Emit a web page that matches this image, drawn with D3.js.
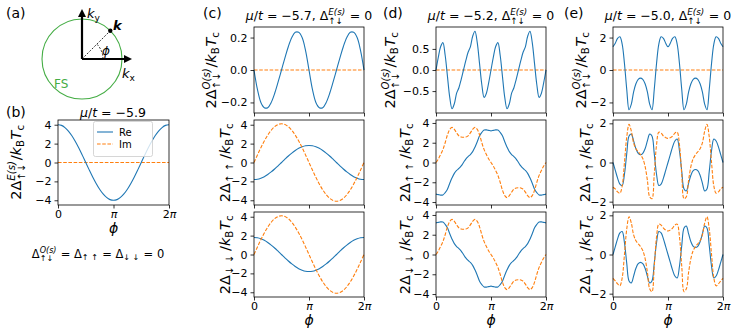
<!DOCTYPE html>
<html>
<head>
<meta charset="utf-8">
<script src="https://cdn.jsdelivr.net/npm/d3@7/dist/d3.min.js"></script>
<style>
body { margin: 0; background: #fff; }
svg text { font-family: "DejaVu Sans", sans-serif; fill: #000; white-space: pre; }
</style>
</head>
<body>
<script>
// sample positions along phi, in units of pi
var phi16 = d3.range(33).map(function(k) { return k / 16; });
var phi24 = d3.range(49).map(function(k) { return k / 24; });
var xTicks = [0, 1, 2];
var xTickLabels = ['0', 'π', '2π'];

// (b) mu/t = -5.9
var bRe = [4.0, 3.93, 3.7, 3.33, 2.83, 2.22, 1.53, 0.78, 0, -0.78, -1.53, -2.22, -2.83, -3.33, -3.7, -3.93, -4.0,
           -3.93, -3.7, -3.33, -2.83, -2.22, -1.53, -0.78, 0, 0.78, 1.53, 2.22, 2.83, 3.33, 3.7, 3.93, 4.0];
var bIm = [0, 0, 0, 0, 0, 0, 0, 0, 0, 0, 0, 0, 0, 0, 0, 0, 0, 0, 0, 0, 0, 0, 0, 0, 0, 0, 0, 0, 0, 0, 0, 0, 0];

// (c) mu/t = -5.7
var cOdd = [0, -0.12, -0.2, -0.232, -0.232, -0.2, -0.145, -0.075, 0, 0.075, 0.145, 0.2, 0.232, 0.232, 0.2, 0.12, 0,
            -0.12, -0.2, -0.232, -0.232, -0.2, -0.145, -0.075, 0, 0.075, 0.145, 0.2, 0.232, 0.232, 0.2, 0.12, 0];
var cUuRe = [-1.8, -1.77, -1.66, -1.5, -1.27, -1.0, -0.69, -0.35, 0, 0.35, 0.69, 1.0, 1.27, 1.5, 1.66, 1.77, 1.8,
             1.77, 1.66, 1.5, 1.27, 1.0, 0.69, 0.35, 0, -0.35, -0.69, -1.0, -1.27, -1.5, -1.66, -1.77, -1.8];
var cUuIm = [0, 0.8, 1.57, 2.28, 2.9, 3.41, 3.79, 4.02, 4.1, 4.02, 3.79, 3.41, 2.9, 2.28, 1.57, 0.8, 0,
             -0.8, -1.57, -2.28, -2.9, -3.41, -3.79, -4.02, -4.1, -4.02, -3.79, -3.41, -2.9, -2.28, -1.57, -0.8, 0];
var cDdRe = [1.8, 1.77, 1.66, 1.5, 1.27, 1.0, 0.69, 0.35, 0, -0.35, -0.69, -1.0, -1.27, -1.5, -1.66, -1.77, -1.8,
             -1.77, -1.66, -1.5, -1.27, -1.0, -0.69, -0.35, 0, 0.35, 0.69, 1.0, 1.27, 1.5, 1.66, 1.77, 1.8];
var cDdIm = [0, 0.8, 1.57, 2.28, 2.9, 3.41, 3.79, 4.02, 4.1, 4.02, 3.79, 3.41, 2.9, 2.28, 1.57, 0.8, 0,
             -0.8, -1.57, -2.28, -2.9, -3.41, -3.79, -4.02, -4.1, -4.02, -3.79, -3.41, -2.9, -2.28, -1.57, -0.8, 0];

// (d) mu/t = -5.2
var dOdd = [0, 0.3, 0.55, 0.65, 0.35, -0.15, -0.65, -0.92, -0.8, -0.55, -0.42, -0.22, 0, 0.22, 0.42, 0.55, 0.8, 0.92, 0.65, 0.15, -0.35, -0.65, -0.55, -0.3, 0,
            0.3, 0.55, 0.65, 0.35, -0.15, -0.65, -0.92, -0.8, -0.55, -0.42, -0.22, 0, 0.22, 0.42, 0.55, 0.8, 0.92, 0.65, 0.15, -0.35, -0.65, -0.55, -0.3, 0];
var dUuRe = [-3.2, -3.25, -3.3, -3.28, -3.05, -2.7, -2.1, -1.55, -1.1, -0.8, -0.6, -0.35, 0, 0.35, 0.6, 0.8, 1.1, 1.55, 2.1, 2.7, 3.05, 3.28, 3.3, 3.25, 3.2,
             3.25, 3.3, 3.28, 3.05, 2.7, 2.1, 1.55, 1.1, 0.8, 0.6, 0.35, 0, -0.35, -0.6, -0.8, -1.1, -1.55, -2.1, -2.7, -3.05, -3.28, -3.3, -3.25, -3.2];
var dUuIm = [0, 0.35, 0.8, 1.3, 2.0, 2.8, 3.35, 3.55, 3.35, 3.0, 2.7, 2.57, 2.55, 2.57, 2.7, 3.0, 3.35, 3.55, 3.35, 2.8, 2.0, 1.3, 0.8, 0.35, 0,
             -0.35, -0.8, -1.3, -2.0, -2.8, -3.35, -3.55, -3.35, -3.0, -2.7, -2.57, -2.55, -2.57, -2.7, -3.0, -3.35, -3.55, -3.35, -2.8, -2.0, -1.3, -0.8, -0.35, 0];
var dDdRe = [3.2, 3.25, 3.3, 3.28, 3.05, 2.7, 2.1, 1.55, 1.1, 0.8, 0.6, 0.35, 0, -0.35, -0.6, -0.8, -1.1, -1.55, -2.1, -2.7, -3.05, -3.28, -3.3, -3.25, -3.2,
             -3.25, -3.3, -3.28, -3.05, -2.7, -2.1, -1.55, -1.1, -0.8, -0.6, -0.35, 0, 0.35, 0.6, 0.8, 1.1, 1.55, 2.1, 2.7, 3.05, 3.28, 3.3, 3.25, 3.2];
var dDdIm = [0, 0.35, 0.8, 1.3, 2.0, 2.8, 3.35, 3.55, 3.35, 3.0, 2.7, 2.57, 2.55, 2.57, 2.7, 3.0, 3.35, 3.55, 3.35, 2.8, 2.0, 1.3, 0.8, 0.35, 0,
             -0.35, -0.8, -1.3, -2.0, -2.8, -3.35, -3.55, -3.35, -3.0, -2.7, -2.57, -2.55, -2.57, -2.7, -3.0, -3.35, -3.55, -3.35, -2.8, -2.0, -1.3, -0.8, -0.35, 0];

// (e) mu/t = -5.0
var eOdd = [1.43, 1.65, 1.95, 2.05, 1.6, 0.4, -1.2, -2.45, -2.1, -1.35, -0.85, -0.58, -0.5, -0.58, -0.85, -1.35, -2.1, -2.45, -1.2, 0.4, 1.6, 2.05, 1.95, 1.65, 1.43,
            1.65, 1.95, 2.05, 1.6, 0.4, -1.2, -2.45, -2.1, -1.35, -0.85, -0.58, -0.5, -0.58, -0.85, -1.35, -2.1, -2.45, -1.2, 0.4, 1.6, 2.05, 1.95, 1.65, 1.43];
var eUuRe = [0, -0.4, -0.8, -1.1, -1.17, -0.6, 0.45, 1.35, 1.45, 1.1, 0.7, 0.47, 0.4, 0.47, 0.7, 1.1, 1.45, 1.35, 0.45, -0.6, -1.17, -1.1, -0.8, -0.4, 0,
             0.4, 0.8, 1.1, 1.2, 0.6, -0.45, -1.35, -1.45, -1.05, -0.65, -0.42, -0.36, -0.42, -0.65, -1.05, -1.45, -1.35, -0.45, 0.6, 1.2, 1.1, 0.8, 0.4, 0];
var eUuIm = [-1.26, -1.35, -1.5, -1.57, -1.2, 0.0, 1.3, 1.95, 1.6, 1.0, 0.7, 0.55, 0.4, 0.2, -0.2, -0.9, -1.75, -1.85, -0.6, 0.9, 1.55, 1.5, 1.35, 1.27, 1.23,
             1.27, 1.35, 1.5, 1.55, 0.9, -0.6, -1.85, -1.75, -0.9, -0.2, 0.2, 0.4, 0.55, 0.7, 1.0, 1.6, 1.95, 1.3, 0.0, -1.2, -1.57, -1.5, -1.35, -1.26];
var eDdRe = [0, 0.4, 0.8, 1.1, 1.17, 0.6, -0.45, -1.35, -1.45, -1.1, -0.7, -0.47, -0.4, -0.47, -0.7, -1.1, -1.45, -1.35, -0.45, 0.6, 1.17, 1.1, 0.8, 0.4, 0,
             -0.4, -0.8, -1.1, -1.2, -0.6, 0.45, 1.35, 1.45, 1.05, 0.65, 0.42, 0.36, 0.42, 0.65, 1.05, 1.45, 1.35, 0.45, -0.6, -1.2, -1.1, -0.8, -0.4, 0];
var eDdIm = [-1.22, -1.35, -1.5, -1.6, -1.2, 0.0, 1.3, 1.93, 1.6, 1.0, 0.7, 0.55, 0.4, 0.2, -0.2, -0.9, -1.75, -1.9, -0.6, 0.9, 1.55, 1.5, 1.35, 1.25, 1.2,
             1.25, 1.35, 1.5, 1.55, 0.9, -0.6, -1.9, -1.75, -0.9, -0.2, 0.2, 0.4, 0.55, 0.7, 1.0, 1.6, 1.93, 1.3, 0.0, -1.2, -1.6, -1.5, -1.35, -1.22];

var blue = '#1f77b4', orange = '#ff7f0e';
var svg = d3.select('body').append('svg').attr('width', 747).attr('height', 332);

// lays out simple math: strings, {t,i,b}, or {sup,sub} stacks
function mtext(parent, parts, fs, anchor) {
  var g = parent.append('g'), x = 0;
  parts.forEach(function(p) {
    if (typeof p === 'string') p = { t: p };
    if (p.t !== undefined) {
      var t = g.append('text').attr('x', x).attr('y', 0).style('font-size', fs + 'px').text(p.t);
      if (p.i) t.style('font-style', 'italic');
      if (p.b) t.style('font-weight', 'bold');
      x += t.node().getComputedTextLength();
    } else {
      var w = 0, ss = fs * 0.7;
      if (p.sup !== undefined) {
        var s1 = g.append('text').attr('x', x).attr('y', -fs * 0.42).style('font-size', ss + 'px')
          .style('font-style', 'italic').text(p.sup);
        w = Math.max(w, s1.node().getComputedTextLength());
      }
      if (p.sub !== undefined) {
        var s2 = g.append('text').attr('x', x).attr('y', fs * (p.sup !== undefined ? 0.3 : 0.2))
          .style('font-size', ss + 'px').text(p.sub);
        w = Math.max(w, s2.node().getComputedTextLength());
      }
      x += w + fs * 0.05;
    }
  });
  g.attr('transform', 'translate(' + (-x * anchor) + ',0)');
  return x;
}

function ylabel(cx, cy, parts) {
  var g = svg.append('g').attr('transform', 'translate(' + cx + ',' + cy + ') rotate(-90)');
  var inner = g.append('g').attr('transform', 'translate(0,' + 5 + ')');
  mtext(inner, parts, 14.5, 0.5);
}

function panel(o) {
  var x = d3.scaleLinear().domain([0, 2]).range([o.x0, o.x1]);
  var y = d3.scaleLinear().domain(o.ydom).range([o.y1, o.y0]);
  var g = svg.append('g');
  o.series.forEach(function(s) {
    var line = d3.line()
      .x(function(d, i) { return x(s.phi[i]); })
      .y(function(d) { return y(d); })
      .curve(d3.curveCatmullRom);
    g.append('path').attr('d', line(s.v))
      .attr('fill', 'none').attr('stroke', s.color).attr('stroke-width', 1.1)
      .attr('stroke-dasharray', s.dash ? '3.6,1.6' : null);
  });
  g.append('rect').attr('x', o.x0).attr('y', o.y0)
    .attr('width', o.x1 - o.x0).attr('height', o.y1 - o.y0)
    .attr('fill', 'none').attr('stroke', '#000').attr('stroke-width', 0.8);

  var ya = g.append('g').attr('transform', 'translate(' + o.x0 + ',0)')
    .call(d3.axisLeft(y).tickValues(o.yticks).tickSize(3.5).tickPadding(3).tickFormat(o.yfmt));
  ya.select('.domain').remove();
  ya.selectAll('.tick line').attr('stroke-width', 0.8);
  ya.selectAll('.tick text').style('font-size', '11px');

  var xa = g.append('g').attr('transform', 'translate(0,' + o.y1 + ')')
    .call(d3.axisBottom(x).tickValues(xTicks).tickSize(3.5).tickPadding(2).tickFormat(''));
  xa.select('.domain').remove();
  xa.selectAll('.tick line').attr('stroke-width', 0.8);
  xa.selectAll('.tick text').each(function(d, i) {
    if (!o.xlab) return;
    var t = d3.select(this).style('font-size', '11px');
    var lab = xTickLabels[i];
    var pre = lab.replace('π', '');
    if (pre) t.append('tspan').text(pre);
    if (lab.indexOf('π') >= 0) t.append('tspan').style('font-style', 'italic').text('π');
  });
  if (o.xlab) {
    svg.append('text').attr('x', (o.x0 + o.x1) / 2).attr('y', o.y1 + 28)
      .attr('text-anchor', 'middle').style('font-size', '14px').style('font-style', 'italic').text('ϕ');
  }
  return { x: x, y: y };
}

function title(cx, by, parts) {
  var g = svg.append('g').attr('transform', 'translate(' + cx + ',' + by + ')');
  mtext(g, parts, 12.5, 0.5);
}

function plabel(x, y, s) {
  svg.append('text').attr('x', x).attr('y', y).style('font-size', '14px').text(s);
}

var rows = [[27, 113], [120, 205], [212, 297]];
var cols = { b: [58, 169], c: [254, 364], d: [436, 546], e: [613, 723] };
var fmtI = d3.format('d'), fmt1 = d3.format('.1f');

// ---------- (a) schematic ----------
var A = { cx: 82, cy: 59, r: 40, kAng: 45 };
var fsGreen = '#45ad45';
var ga = svg.append('g');
ga.append('circle').attr('cx', A.cx).attr('cy', A.cy).attr('r', A.r)
  .attr('fill', 'none').attr('stroke', fsGreen).attr('stroke-width', 1.1);
ga.append('line').attr('x1', A.cx).attr('y1', A.cy).attr('x2', A.cx).attr('y2', A.cy - 44)
  .attr('stroke', '#000').attr('stroke-width', 2.2);
ga.append('path').attr('d', 'M' + A.cx + ',' + (A.cy - 50) + 'l-4,8h8z');
ga.append('line').attr('x1', A.cx).attr('y1', A.cy).attr('x2', A.cx + 44).attr('y2', A.cy)
  .attr('stroke', '#000').attr('stroke-width', 2.2);
ga.append('path').attr('d', 'M' + (A.cx + 50) + ',' + A.cy + 'l-8,-4v8z');
var kr = A.kAng * Math.PI / 180;
var kx = A.cx + A.r * Math.cos(kr), ky = A.cy - A.r * Math.sin(kr);
ga.append('line').attr('x1', A.cx).attr('y1', A.cy).attr('x2', kx).attr('y2', ky)
  .attr('stroke', '#000').attr('stroke-width', 0.8).attr('stroke-dasharray', '2,1.5');
ga.append('circle').attr('cx', kx).attr('cy', ky).attr('r', 2.2).attr('fill', '#000');
var arcR = 21;
ga.append('path')
  .attr('d', 'M' + (A.cx + arcR) + ',' + A.cy + 'A' + arcR + ',' + arcR + ' 0 0 0 ' +
    (A.cx + arcR * Math.cos(kr)) + ',' + (A.cy - arcR * Math.sin(kr)))
  .attr('fill', 'none').attr('stroke', '#000').attr('stroke-width', 0.8).attr('stroke-dasharray', '2,1.5');
var kyl = svg.append('g').attr('transform', 'translate(87,18)');
mtext(kyl, [{ t: 'k', i: 1 }, { sub: 'y' }], 13, 0);
var kxl = svg.append('g').attr('transform', 'translate(122,78)');
mtext(kxl, [{ t: 'k', i: 1 }, { sub: 'x' }], 13, 0);
svg.append('text').attr('x', 113).attr('y', 30).style('font-size', '13px')
  .style('font-style', 'italic').style('font-weight', 'bold').text('k');
svg.append('text').attr('x', 102).attr('y', 55).style('font-size', '12px').style('font-style', 'italic').text('ϕ');
svg.append('text').attr('x', 54).attr('y', 88).style('font-size', '12px').style('fill', fsGreen).text('FS');
plabel(6, 18, '(a)');

// ---------- (b) ----------
panel({ x0: cols.b[0], x1: cols.b[1], y0: rows[1][0], y1: rows[1][1], ydom: [-4.5, 4.5],
  yticks: [-4, -2, 0, 2, 4], yfmt: fmtI, xlab: true,
  series: [{ v: bIm, phi: phi16, color: orange, dash: 1 }, { v: bRe, phi: phi16, color: blue }] });
plabel(6, 117, '(b)');
title(113, 117, [{ t: 'μ', i: 1 }, '/', { t: 't', i: 1 }, ' = −5.9']);
ylabel(16, 162, ['2Δ', { sup: 'E(s)', sub: '↑↓' }, '/', { t: 'k', i: 1 }, { sub: 'B' }, { t: 'T', i: 1 }, { sub: 'c' }]);
// legend
var lg = svg.append('g');
lg.append('rect').attr('x', 93.5).attr('y', 121.5).attr('width', 59).attr('height', 35).attr('rx', 2)
  .attr('fill', '#fff').attr('fill-opacity', 0.8).attr('stroke', '#ccc').attr('stroke-width', 0.8);
lg.append('line').attr('x1', 97).attr('x2', 113).attr('y1', 132).attr('y2', 132).attr('stroke', blue).attr('stroke-width', 1.1);
lg.append('line').attr('x1', 97).attr('x2', 113).attr('y1', 144).attr('y2', 144).attr('stroke', orange)
  .attr('stroke-width', 1.1).attr('stroke-dasharray', '3.6,1.6');
lg.append('text').attr('x', 119).attr('y', 135.5).style('font-size', '10px').text('Re');
lg.append('text').attr('x', 119).attr('y', 147.5).style('font-size', '10px').text('Im');
var bt = svg.append('g').attr('transform', 'translate(98,258)');
mtext(bt, ['Δ', { sup: 'O(s)', sub: '↑↓' }, ' = Δ', { sub: '↑ ↑' }, ' = Δ', { sub: '↓ ↓' }, ' = 0'], 11.5, 0.5);

// ---------- (c), (d), (e) ----------
var yOdd = ['2Δ', { sup: 'O(s)', sub: '↑↓' }, '/', { t: 'k', i: 1 }, { sub: 'B' }, { t: 'T', i: 1 }, { sub: 'c' }];
var yUu = ['2Δ', { sub: '↑ ↑ ' }, '/', { t: 'k', i: 1 }, { sub: 'B' }, { t: 'T', i: 1 }, { sub: 'c' }];
var yDd = ['2Δ', { sub: '↓ ↓ ' }, '/', { t: 'k', i: 1 }, { sub: 'B' }, { t: 'T', i: 1 }, { sub: 'c' }];

var cfg = [
  { key: 'c', mu: '−5.7', lab: '(c)', lx: 203, odd: cOdd, uRe: cUuRe, uIm: cUuIm, dRe: cDdRe, dIm: cDdIm, phi: phi16,
    d1: [-0.265, 0.265], t1: [-0.2, 0, 0.2], f1: fmt1, d2: [-4.5, 4.5], t2: [-4, -2, 0, 2, 4], yl: [211, 225] },
  { key: 'd', mu: '−5.2', lab: '(d)', lx: 383, odd: dOdd, uRe: dUuRe, uIm: dUuIm, dRe: dDdRe, dIm: dDdIm, phi: phi24,
    d1: [-1.02, 1.02], t1: [-0.5, 0, 0.5], f1: fmt1, d2: [-4.3, 4.3], t2: [-4, -2, 0, 2, 4], yl: [390, 405] },
  { key: 'e', mu: '−5.0', lab: '(e)', lx: 564, odd: eOdd, uRe: eUuRe, uIm: eUuIm, dRe: eDdRe, dIm: eDdIm, phi: phi24,
    d1: [-2.65, 2.65], t1: [-2, 0, 2], f1: fmtI, d2: [-2.17, 2.17], t2: [-2, 0, 2], yl: [581, 585] }
];

cfg.forEach(function(c) {
  var col = cols[c.key], zero = c.phi.map(function() { return 0; });
  panel({ x0: col[0], x1: col[1], y0: rows[0][0], y1: rows[0][1], ydom: c.d1, yticks: c.t1, yfmt: c.f1,
    series: [{ v: zero, phi: c.phi, color: orange, dash: 1 }, { v: c.odd, phi: c.phi, color: blue }] });
  panel({ x0: col[0], x1: col[1], y0: rows[1][0], y1: rows[1][1], ydom: c.d2, yticks: c.t2, yfmt: fmtI,
    series: [{ v: c.uRe, phi: c.phi, color: blue }, { v: c.uIm, phi: c.phi, color: orange, dash: 1 }] });
  panel({ x0: col[0], x1: col[1], y0: rows[2][0], y1: rows[2][1], ydom: c.d2, yticks: c.t2, yfmt: fmtI, xlab: true,
    series: [{ v: c.dRe, phi: c.phi, color: blue }, { v: c.dIm, phi: c.phi, color: orange, dash: 1 }] });
  plabel(c.lx, 18, c.lab);
  title((col[0] + col[1]) / 2, 20, [{ t: 'μ', i: 1 }, '/', { t: 't', i: 1 }, ' = ' + c.mu + ', Δ', { sup: 'E(s)', sub: '↑↓' }, ' = 0']);
  ylabel(c.yl[0], (rows[0][0] + rows[0][1]) / 2, yOdd);
  ylabel(c.yl[1], (rows[1][0] + rows[1][1]) / 2, yUu);
  ylabel(c.yl[1], (rows[2][0] + rows[2][1]) / 2, yDd);
});
</script>
</body>
</html>
